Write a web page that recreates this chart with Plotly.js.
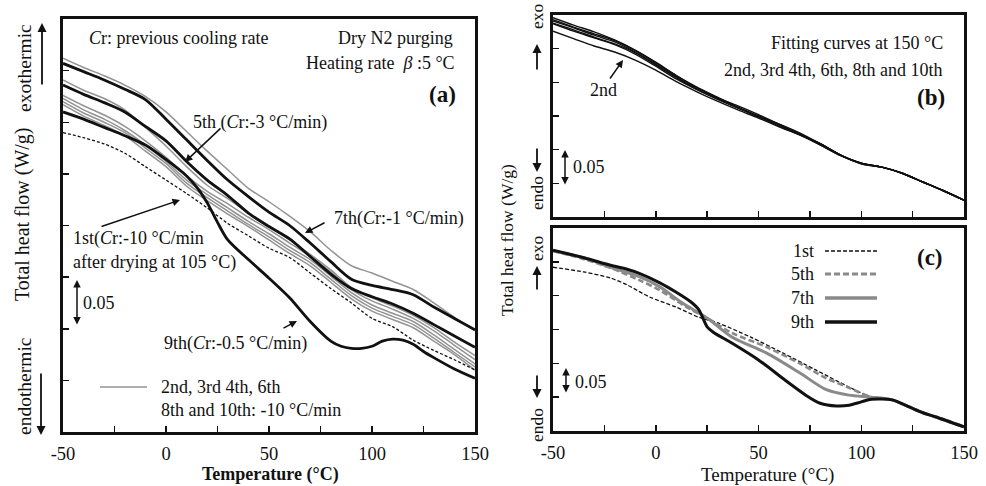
<!DOCTYPE html>
<html><head><meta charset="utf-8">
<script src="https://cdn.plot.ly/plotly-3.0.1.min.js"></script>
<style>html,body{margin:0;padding:0;background:#fff;}#chart{width:986px;height:486px;}</style>
</head><body><div id="chart"></div>
<script>
// ---------- Panel (a): total heat flow vs temperature (relative W/g) ----------
const tempA = [-50,-40,-30,-20,-10,0,10,20,30,40,50,60,70,80,90,100,110,120,130,140,150];
const a_grey1 = [0.362,0.353,0.345,0.336,0.325,0.310,0.291,0.272,0.254,0.236,0.223,0.209,0.194,0.176,0.161,0.154,0.146,0.138,0.125,0.111,0.098];
const a_grey2 = [0.341,0.331,0.323,0.312,0.295,0.277,0.257,0.239,0.226,0.212,0.199,0.186,0.172,0.157,0.140,0.130,0.122,0.113,0.101,0.087,0.074];
const a_grey3 = [0.326,0.316,0.307,0.296,0.282,0.266,0.248,0.233,0.221,0.208,0.196,0.183,0.170,0.155,0.138,0.127,0.119,0.110,0.098,0.084,0.070];
const a_grey4 = [0.323,0.312,0.303,0.292,0.278,0.262,0.244,0.230,0.217,0.204,0.192,0.179,0.167,0.151,0.135,0.123,0.115,0.107,0.094,0.080,0.066];
const a_grey5 = [0.320,0.309,0.300,0.290,0.275,0.260,0.241,0.227,0.214,0.201,0.189,0.176,0.164,0.148,0.132,0.120,0.112,0.104,0.091,0.077,0.063];
const a_grey6 = [0.317,0.306,0.297,0.287,0.272,0.257,0.238,0.224,0.211,0.199,0.186,0.173,0.161,0.145,0.129,0.117,0.109,0.101,0.088,0.075,0.060];
const a_1st   = [0.290,0.285,0.279,0.270,0.257,0.244,0.231,0.217,0.202,0.190,0.178,0.169,0.154,0.139,0.125,0.110,0.102,0.089,0.079,0.070,0.060];
const a_5th   = [0.336,0.327,0.319,0.310,0.296,0.282,0.262,0.244,0.229,0.212,0.199,0.187,0.170,0.153,0.139,0.131,0.124,0.115,0.104,0.093,0.082];
const a_7th   = [0.357,0.349,0.341,0.332,0.322,0.303,0.283,0.263,0.244,0.228,0.213,0.200,0.183,0.165,0.148,0.142,0.138,0.133,0.121,0.110,0.099];
const tempA9  = [-50,-40,-30,-20,-10,0,10,15,20,25,30,40,50,60,70,80,85,90,95,100,105,110,115,120,125,130,140,150];
const a_9th   = [0.310,0.303,0.295,0.287,0.278,0.264,0.248,0.237,0.222,0.203,0.186,0.167,0.149,0.130,0.107,0.088,0.083,0.081,0.081,0.083,0.088,0.090,0.089,0.085,0.078,0.072,0.061,0.052];

// ---------- Panel (b): fitting curves at 150 °C ----------
const tempB = [-50,-40,-30,-20,-10,0,10,20,30,40,50,60,70,80,90,100,110,120,130,140,150];
const b_2nd  = [0.276,0.265,0.254,0.245,0.233,0.218,0.201,0.186,0.172,0.159,0.147,0.134,0.122,0.107,0.091,0.079,0.074,0.065,0.052,0.039,0.025];
const b_3rd  = [0.296,0.285,0.275,0.263,0.248,0.230,0.210,0.193,0.178,0.163,0.150,0.137,0.123,0.109,0.092,0.080,0.074,0.065,0.052,0.039,0.025];
const b_4th  = [0.293,0.282,0.272,0.262,0.247,0.229,0.210,0.192,0.177,0.162,0.149,0.137,0.123,0.109,0.092,0.080,0.074,0.065,0.052,0.039,0.025];
const b_6th  = [0.291,0.281,0.270,0.260,0.245,0.227,0.208,0.190,0.175,0.162,0.150,0.138,0.125,0.109,0.092,0.080,0.074,0.065,0.052,0.039,0.025];
const b_8th  = [0.288,0.278,0.267,0.257,0.244,0.226,0.207,0.190,0.177,0.165,0.152,0.138,0.123,0.107,0.091,0.080,0.074,0.065,0.052,0.039,0.025];
const b_10th = [0.287,0.276,0.266,0.256,0.242,0.224,0.205,0.189,0.175,0.162,0.149,0.135,0.122,0.109,0.092,0.079,0.074,0.065,0.052,0.039,0.025];

// ---------- Panel (c): 1st, 5th, 7th, 9th ----------
const tempC1 = [-50,-35,-22,-14,-3,10,21,30,46,62,78,94,105,115,123,130,136,150];
const c_1st  = [0.242,0.235,0.226,0.216,0.198,0.183,0.168,0.160,0.139,0.115,0.090,0.065,0.050,0.046,0.036,0.027,0.021,0.006];
const tempC5 = [-50,-35,-22,-8,2,15,25,37,54,70,83,94,105,115,123,130,136,150];
const c_5th  = [0.266,0.254,0.241,0.223,0.208,0.183,0.167,0.145,0.124,0.100,0.078,0.064,0.050,0.046,0.036,0.027,0.021,0.006];
const tempC7 = [-50,-35,-22,-8,2,13,25,37,54,70,83,94,105,115,123,130,136,150];
const c_7th  = [0.266,0.256,0.242,0.228,0.213,0.189,0.167,0.139,0.115,0.086,0.061,0.053,0.050,0.046,0.036,0.027,0.021,0.006];
const tempC9 = [-50,-35,-22,-14,-8,2,10,17,21,25,28,37,50,63,73,80,88,94,100,105,115,123,130,136,150];
const c_9th  = [0.267,0.256,0.245,0.239,0.233,0.219,0.205,0.191,0.179,0.154,0.146,0.130,0.105,0.075,0.053,0.041,0.037,0.038,0.043,0.047,0.046,0.036,0.027,0.021,0.006];

const xTickVals = [-50,-25,0,25,50,75,100,125,150];
const xTickText = ['-50','','0','','50','','100','','150'];

const SERIF = 'Liberation Serif';
const INK = '#111111';
const GREY = '#939393';

function ln(x, y, xa, ya, color, width, dash) {
  return {x: x, y: y, xaxis: xa, yaxis: ya, type: 'scatter', mode: 'lines',
    line: {color: color, width: width, dash: dash || 'solid', shape: 'spline', smoothing: 0.8},
    hoverinfo: 'skip', showlegend: false};
}

const traces = [
  ln(tempA, a_grey1, 'x', 'y', GREY, 1.5),
  ln(tempA, a_grey2, 'x', 'y', GREY, 1.5),
  ln(tempA, a_grey3, 'x', 'y', GREY, 1.5),
  ln(tempA, a_grey4, 'x', 'y', GREY, 1.5),
  ln(tempA, a_grey5, 'x', 'y', GREY, 1.5),
  ln(tempA, a_grey6, 'x', 'y', GREY, 1.5),
  ln(tempA, a_1st, 'x', 'y', INK, 1.3, '3px,2px'),
  ln(tempA, a_5th, 'x', 'y', INK, 2.8),
  ln(tempA, a_7th, 'x', 'y', INK, 2.8),
  ln(tempA9, a_9th, 'x', 'y', INK, 2.8),

  ln(tempB, b_2nd, 'x2', 'y2', INK, 1.4),
  ln(tempB, b_3rd, 'x2', 'y2', INK, 1.4),
  ln(tempB, b_4th, 'x2', 'y2', INK, 1.4),
  ln(tempB, b_6th, 'x2', 'y2', INK, 1.4),
  ln(tempB, b_8th, 'x2', 'y2', INK, 1.4),
  ln(tempB, b_10th, 'x2', 'y2', INK, 1.4),

  ln(tempC1, c_1st, 'x3', 'y3', INK, 1.3, '4px,2px'),
  ln(tempC5, c_5th, 'x3', 'y3', '#8a8a8a', 2.6, '6px,3px'),
  ln(tempC7, c_7th, 'x3', 'y3', '#8a8a8a', 3),
  ln(tempC9, c_9th, 'x3', 'y3', INK, 3)
];

const W = 986, H = 486;
const px = x => x / W;
const py = y => 1 - y / H;

function xax(domain, anchor, labels) {
  return {domain: domain, anchor: anchor, range: [-50, 150], showgrid: false, zeroline: false,
    showline: true, mirror: true, linecolor: INK, linewidth: 3,
    ticks: 'inside', ticklen: 6, tickwidth: 1.5, tickcolor: INK,
    tickmode: 'array', tickvals: xTickVals, ticktext: xTickText,
    showticklabels: labels, ticklabelstandoff: 3,
    tickfont: {family: SERIF, size: 18.5, color: INK}};
}
function yax(domain, anchor, range, vals) {
  return {domain: domain, anchor: anchor, range: range, showgrid: false, zeroline: false,
    showline: true, mirror: true, linecolor: INK, linewidth: 3,
    ticks: 'inside', ticklen: 6, tickwidth: 1.5, tickcolor: INK,
    tickmode: 'array', tickvals: vals, showticklabels: false};
}

function txt(s, x, y, anchor, size, extra) {
  return Object.assign({text: s, x: px(x), y: py(y), xref: 'paper', yref: 'paper',
    showarrow: false, xanchor: anchor || 'left', yanchor: 'middle',
    font: {family: SERIF, size: size || 18, color: INK}}, extra || {});
}
function vtxt(s, x, y, size) {
  return txt(s, x, y, 'center', size, {textangle: -90});
}
function arrow(hx, hy, tx, ty, w, both) {
  return {text: '', x: px(hx), y: py(hy), xref: 'paper', yref: 'paper',
    ax: tx - hx, ay: ty - hy, axref: 'pixel', ayref: 'pixel',
    showarrow: true, arrowhead: 2, arrowsize: 1, arrowwidth: w || 1.5, arrowcolor: INK,
    arrowside: both ? 'end+start' : 'end', standoff: 0, startstandoff: 0};
}

const annotations = [
  // panel (a)
  txt('<i>C</i>r: previous cooling rate', 87, 38, 'left', 18),
  txt('Dry N2 purging', 455, 38, 'right', 18),
  txt('Heating rate  <i>β</i> :5 °C', 457, 63, 'right', 18),
  txt('<b>(a)</b>', 458, 94, 'right', 23),
  txt('5th (<i>C</i>r:-3 °C/min)', 191, 122, 'left', 18),
  arrow(185, 162, 222, 127),
  txt('7th(<i>C</i>r:-1 °C/min)', 332, 218, 'left', 18),
  arrow(305, 233, 326, 222),
  txt('1st(<i>C</i>r:-10 °C/min', 71, 238, 'left', 18),
  txt('after drying at 105 °C)', 71, 262, 'left', 18),
  arrow(180, 200, 100, 227),
  arrow(77, 280, 77, 326, 1.5, true),
  txt('0.05', 81, 303, 'left', 18),
  txt('9th(<i>C</i>r:-0.5 °C/min)', 162, 343, 'left', 18),
  arrow(297, 321, 282, 329),
  txt('2nd, 3rd 4th, 6th', 159, 387, 'left', 18),
  txt('8th and 10th: -10 °C/min', 159, 410, 'left', 18),
  vtxt('exothermic', 24, 68, 19.5),
  arrow(42, 23, 42, 86, 1.8),
  vtxt('Total heat flow (W/g)', 22, 214, 20),
  vtxt('endothermic', 24, 386, 19.5),
  arrow(41, 435, 41, 372, 1.8),
  txt('<b>Temperature (°C)</b>', 270, 474, 'center', 18),

  // panel (b)
  vtxt('exo', 537, 16, 17.5),
  arrow(537, 44, 537, 71, 1.8),
  vtxt('endo', 537, 193, 17.5),
  arrow(537, 172, 537, 147, 1.8),
  txt('Fitting curves at 150 °C', 945, 43, 'right', 18),
  txt('2nd, 3rd 4th, 6th, 8th and 10th', 945, 70, 'right', 18),
  txt('<b>(b)</b>', 947, 97, 'right', 23),
  txt('2nd', 603, 90, 'center', 18),
  arrow(623, 60, 609, 80),
  arrow(565, 150, 565, 186, 1.5, true),
  txt('0.05', 571, 167, 'left', 18),

  vtxt('Total heat flow (W/g)', 507, 240, 17.5),

  // panel (c)
  vtxt('exo', 537, 248, 17.5),
  arrow(537, 266, 537, 291, 1.8),
  vtxt('endo', 537, 425, 17.5),
  arrow(537, 398, 537, 374, 1.8),
  txt('1st', 816, 251, 'right', 18),
  txt('5th', 816, 274, 'right', 18),
  txt('7th', 816, 298, 'right', 18),
  txt('9th', 816, 322, 'right', 18),
  txt('<b>(c)</b>', 945, 257, 'right', 23),
  arrow(566, 368, 566, 394, 1.5, true),
  txt('0.05', 573, 382, 'left', 18),
  txt('Temperature (°C)', 767, 475, 'center', 19)
];

function seg(x0, x1, y, color, width, dash) {
  return {type: 'line', xref: 'paper', yref: 'paper', x0: px(x0), x1: px(x1), y0: py(y), y1: py(y),
    line: {color: color, width: width, dash: dash || 'solid'}};
}
const shapes = [
  seg(100, 147, 387, GREY, 1.5),
  seg(825, 877, 251, INK, 1.5, '4px,2px'),
  seg(825, 877, 274, '#8a8a8a', 3, '6px,3px'),
  seg(825, 877, 298, '#8a8a8a', 3.5),
  seg(825, 877, 322, INK, 3.5)
];

const layout = {
  width: W, height: H, margin: {l: 0, r: 0, t: 0, b: 0},
  paper_bgcolor: '#ffffff', plot_bgcolor: '#ffffff', showlegend: false,
  font: {family: SERIF, color: INK},
  xaxis: xax([px(63), px(475)], 'y', true),
  yaxis: yax([py(432), py(19)], 'x', [0, 0.4], [0.05,0.1,0.15,0.2,0.25,0.3,0.35]),
  xaxis2: xax([px(553), px(964)], 'y2', false),
  yaxis2: yax([py(217), py(15)], 'x2', [0, 0.3], [0.05,0.1,0.15,0.2,0.25]),
  xaxis3: xax([px(553), px(964)], 'y3', true),
  yaxis3: yax([py(431), py(228)], 'x3', [0, 0.3], [0.05,0.1,0.15,0.2,0.25]),
  annotations: annotations,
  shapes: shapes
};

Plotly.newPlot('chart', traces, layout, {staticPlot: true, displayModeBar: false});
</script>
</body></html>
